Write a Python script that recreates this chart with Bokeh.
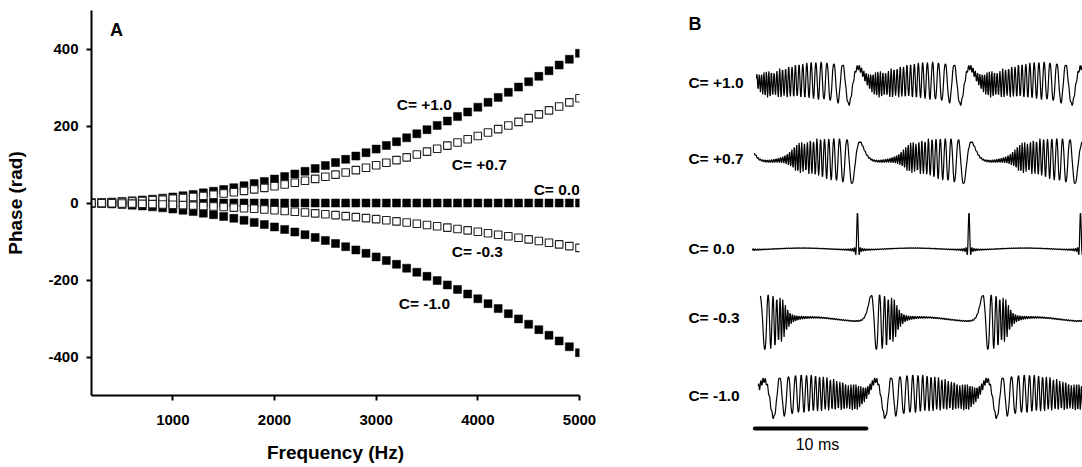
import numpy as np
from bokeh.plotting import figure
from bokeh.models import Range1d, FixedTicker, ColumnDataSource, PrintfTickFormatter
from bokeh.core.properties import value
from bokeh.embed import file_html
from bokeh.resources import INLINE

# ---------------- data: panel A ----------------
FREQ_HZ = [200, 300, 400, 500, 600, 700, 800, 900, 1000, 1100, 1200, 1300, 1400,
           1500, 1600, 1700, 1800, 1900, 2000, 2100, 2200, 2300, 2400, 2500, 2600,
           2700, 2800, 2900, 3000, 3100, 3200, 3300, 3400, 3500, 3600, 3700, 3800,
           3900, 4000, 4100, 4200, 4300, 4400, 4500, 4600, 4700, 4800, 4900, 5000]

PHASE_C_P10 = [0.6, 1.4, 2.5, 3.9, 5.6, 7.6, 10.0, 12.6, 15.6, 18.8, 22.4, 26.3, 30.5,
               35.0, 39.8, 44.9, 50.4, 56.1, 62.2, 68.6, 75.3, 82.3, 89.6, 97.2, 105.1,
               113.4, 121.9, 130.8, 140.0, 149.4, 159.2, 169.3, 179.8, 190.5, 201.5,
               212.9, 224.5, 236.5, 248.8, 261.4, 274.3, 287.5, 301.0, 314.9, 329.0,
               343.5, 358.3, 373.4, 388.8]
PHASE_C_P07 = [0.4, 1.0, 1.8, 2.7, 3.9, 5.3, 7.0, 8.8, 10.9, 13.2, 15.7, 18.4, 21.4,
               24.5, 27.9, 31.4, 35.3, 39.3, 43.5, 48.0, 52.7, 57.6, 62.7, 68.0, 73.6,
               79.4, 85.3, 91.6, 98.0, 104.6, 111.4, 118.5, 125.9, 133.4, 141.1,
               149.0, 157.2, 165.6, 174.2, 183.0, 192.0, 201.3, 210.7, 220.4, 230.3,
               240.5, 250.8, 261.4, 272.2]
PHASE_C_000 = [0.0, 0.0, 0.0, 0.0, 0.0, 0.0, 0.0, 0.0, 0.0, 0.0, 0.0, 0.0, 0.0,
               0.0, 0.0, 0.0, 0.0, 0.0, 0.0, 0.0, 0.0, 0.0, 0.0, 0.0, 0.0,
               0.0, 0.0, 0.0, 0.0, 0.0, 0.0, 0.0, 0.0, 0.0, 0.0,
               0.0, 0.0, 0.0, 0.0, 0.0, 0.0, 0.0, 0.0, 0.0, 0.0,
               0.0, 0.0, 0.0, 0.0]
PHASE_C_M03 = [-0.2, -0.4, -0.8, -1.2, -1.7, -2.3, -3.0, -3.8, -4.7, -5.6, -6.7, -7.9,
               -9.2, -10.5, -11.9, -13.5, -15.1, -16.8, -18.7, -20.6, -22.6, -24.7,
               -26.9, -29.2, -31.5, -34.0, -36.6, -39.2, -42.0, -44.8, -47.8, -50.8,
               -53.9, -57.2, -60.5, -63.9, -67.4, -71.0, -74.6, -78.4, -82.3, -86.3,
               -90.3, -94.5, -98.7, -103.1, -107.5, -112.0, -116.6]
PHASE_C_M10 = [-0.6, -1.4, -2.5, -3.9, -5.6, -7.6, -10.0, -12.6, -15.6, -18.8, -22.4,
               -26.3, -30.5, -35.0, -39.8, -44.9, -50.4, -56.1, -62.2, -68.6, -75.3,
               -82.3, -89.6, -97.2, -105.1, -113.4, -121.9, -130.8, -140.0, -149.4,
               -159.2, -169.3, -179.8, -190.5, -201.5, -212.9, -224.5, -236.5, -248.8,
               -261.4, -274.3, -287.5, -301.0, -314.9, -329.0, -343.5, -358.3, -373.4,
               -388.8]

CURVE_LABELS = ["C= +1.0", "C= +0.7", "C= 0.0", "C= -0.3", "C= -1.0"]
X_TICKS = [1000, 2000, 3000, 4000, 5000]
Y_TICKS = [-400, -200, 0, 200, 400]

# ---------------- data: panel B (Schroeder-phase complexes) ----------------
C_VALUES = [1.0, 0.7, 0.0, -0.3, -1.0]
F0_HZ = 100.0
N_HARM = 50
SAMPLE_STEP_MS = 0.04
LOWPASS_HZ = 3800.0          # gentle high-frequency roll-off visible in the traces
SCALE_BAR_MS = 10

FONT = "Liberation Sans"

# ---------------- panel A ----------------
pa = figure(width=680, height=467, x_range=Range1d(200, 5000), y_range=Range1d(-500, 500),
            output_backend="svg", toolbar_location=None,
            min_border_left=91, min_border_right=101, min_border_top=10, min_border_bottom=72)
pa.grid.visible = False
pa.outline_line_color = None
pa.xaxis.ticker = FixedTicker(ticks=X_TICKS)
pa.yaxis.ticker = FixedTicker(ticks=Y_TICKS)
for ax in (pa.xaxis[0], pa.yaxis[0]):
    ax.formatter = PrintfTickFormatter(format="%d")
    ax.axis_line_width = 2
    ax.axis_line_color = "black"
    ax.major_tick_line_width = 2
    ax.major_tick_line_color = "black"
    ax.major_tick_out = 5
    ax.major_tick_in = 0
    ax.minor_tick_out = 0
    ax.minor_tick_in = 0
    ax.major_label_text_font = FONT
    ax.major_label_text_font_style = "bold"
    ax.major_label_text_font_size = "15px"
    ax.major_label_text_color = "black"
    ax.axis_label_text_font = FONT
    ax.axis_label_text_font_style = "bold"
    ax.axis_label_text_font_size = "19px"
    ax.axis_label_text_color = "black"
pa.xaxis.axis_label = "Frequency (Hz)"
pa.yaxis.axis_label = "Phase (rad)"
pa.xaxis.major_label_standoff = 14
pa.yaxis.major_label_standoff = 8
pa.xaxis.axis_label_standoff = 14
pa.yaxis.axis_label_standoff = 19

filled = [PHASE_C_P10, PHASE_C_000, PHASE_C_M10]
opened = [PHASE_C_P07, PHASE_C_M03]
for ser in filled:
    pa.scatter(FREQ_HZ, ser, marker="square", size=8, fill_color="black",
               line_color="black", line_width=0.5)
for ser in opened:
    pa.scatter(FREQ_HZ, ser, marker="square", size=7.5, fill_color="white",
               line_color="#222222", line_width=1.1)

annot_src = ColumnDataSource(dict(x=[3202, 3743, 4549, 3743, 3222],
                                  y=[255, 101, 36, -125, -260],
                                  t=CURVE_LABELS))
pa.text(x="x", y="y", text="t", source=annot_src, text_font=value(FONT),
        text_font_style="bold", text_font_size="15.5px", text_baseline="middle",
        text_align="left", text_color="black")
pa.text(x=[381], y=[450], text=["A"], text_font=value(FONT), text_font_style="bold",
        text_font_size="18px", text_baseline="middle", text_align="left", text_color="black")

# ---------------- panel B ----------------
pb = figure(width=402, height=467, x_range=Range1d(-5.87, 30.18), y_range=Range1d(467, 0),
            output_backend="svg", toolbar_location=None,
            x_axis_location=None, y_axis_location=None,
            min_border_left=0, min_border_right=0, min_border_top=0, min_border_bottom=0)
pb.grid.visible = False
pb.outline_line_color = None

freqs = np.array(FREQ_HZ, dtype=float)
nh = freqs / F0_HZ
amps = 1.0 / np.sqrt(1.0 + (freqs / LOWPASS_HZ) ** 4)
centers = [81, 158, 248, 318, 394]
halves = [24, 25, 35, 31, 24]
starts = [0.94, 0.76, 0.58, 1.3, 1.1]
shifts = [0.9, 0.9, 0.0, 0.8, 0.8]
for C, yc, hh, st, sh in zip(C_VALUES, centers, halves, starts, shifts):
    t_disp = np.arange(st, 30.3, SAMPLE_STEP_MS)
    tt = (t_disp - sh) / 1000.0
    theta = C * np.pi * nh * (nh + 1) / N_HARM
    w = (amps[None, :] * np.cos(2 * np.pi * np.outer(tt, freqs) + theta[None, :])).sum(axis=1)
    w = w / np.abs(w).max()
    pb.line(t_disp, yc - hh * w, line_color="black", line_width=1.2)

pb.text(x=[-5.16] * 5, y=[82, 158, 248, 317, 395], text=CURVE_LABELS, text_font=value(FONT),
        text_font_style="bold", text_font_size="15.5px", text_baseline="middle",
        text_align="left", text_color="black")
pb.text(x=[-5.16], y=[23], text=["B"], text_font=value(FONT), text_font_style="bold",
        text_font_size="18px", text_baseline="middle", text_align="left", text_color="black")
pb.line([0.8, 0.8 + SCALE_BAR_MS], [428, 428], line_color="black", line_width=4,
        line_cap="round")
pb.text(x=[6.41], y=[444], text=["10 ms"], text_font=value(FONT), text_font_size="16px",
        text_baseline="middle", text_align="center", text_color="black")

html = file_html([pa, pb], INLINE)
html = html.replace("</head>", "<style>html, body{display:flex !important;flex-direction:row !important;"
                    "align-items:flex-start !important;margin:0 !important;padding:0 !important;}</style></head>", 1)
open("out.html", "w").write(html)
